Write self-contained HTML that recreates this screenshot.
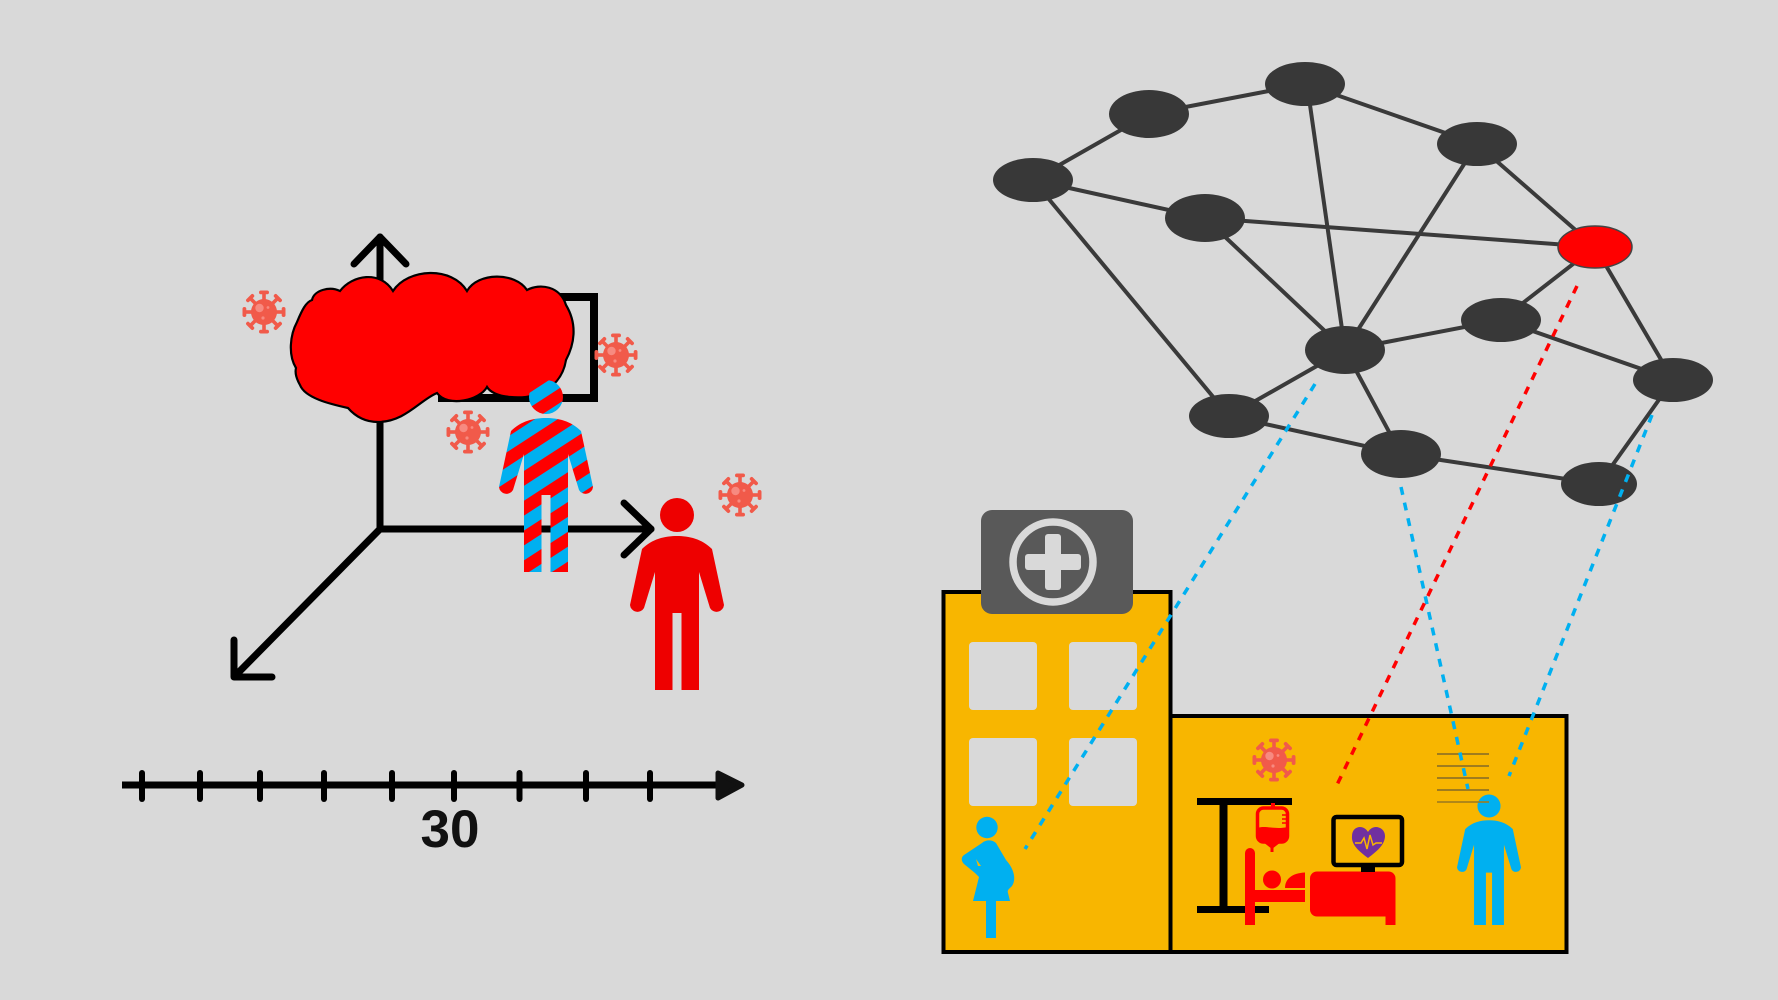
<!DOCTYPE html>
<html>
<head>
<meta charset="utf-8">
<style>
  html,body{margin:0;padding:0;background:#d9d9d9;}
  svg{display:block;}
</style>
</head>
<body>
<svg width="1778" height="1000" viewBox="0 0 1778 1000" xmlns="http://www.w3.org/2000/svg">
  <defs>
    <g id="v">
      <g fill="#f15a4a">
        <circle r="13"/>
        <g><rect x="-1.8" y="-19" width="3.6" height="8"/><rect x="-5" y="-21.5" width="10" height="3.8" rx="1.9"/></g>
        <g transform="rotate(45)"><rect x="-1.8" y="-19" width="3.6" height="8"/><rect x="-5" y="-21.5" width="10" height="3.8" rx="1.9"/></g>
        <g transform="rotate(90)"><rect x="-1.8" y="-19" width="3.6" height="8"/><rect x="-5" y="-21.5" width="10" height="3.8" rx="1.9"/></g>
        <g transform="rotate(135)"><rect x="-1.8" y="-19" width="3.6" height="8"/><rect x="-5" y="-21.5" width="10" height="3.8" rx="1.9"/></g>
        <g transform="rotate(180)"><rect x="-1.8" y="-19" width="3.6" height="8"/><rect x="-5" y="-21.5" width="10" height="3.8" rx="1.9"/></g>
        <g transform="rotate(225)"><rect x="-1.8" y="-19" width="3.6" height="8"/><rect x="-5" y="-21.5" width="10" height="3.8" rx="1.9"/></g>
        <g transform="rotate(270)"><rect x="-1.8" y="-19" width="3.6" height="8"/><rect x="-5" y="-21.5" width="10" height="3.8" rx="1.9"/></g>
        <g transform="rotate(315)"><rect x="-1.8" y="-19" width="3.6" height="8"/><rect x="-5" y="-21.5" width="10" height="3.8" rx="1.9"/></g>
      </g>
      <circle cx="-4.5" cy="-4" r="4.2" fill="#f78a80"/>
      <circle cx="4" cy="-4.5" r="1.4" fill="#f78a80"/>
      <circle cx="-1" cy="6" r="1.6" fill="#f78a80"/>
    </g>
    <g id="man">
      <circle cx="0" cy="0" r="17"/>
      <path d="M -35,34 C -25,24 -12,21 0,21 C 12,21 25,24 35,34 L 47,90 A 7.5 7.5 0 0 1 33,93 L 22,57 L 22,175 L 4.5,175 L 4.5,98 L -4.5,98 L -4.5,175 L -22,175 L -22,57 L -33,93 A 7.5 7.5 0 0 1 -47,90 Z"/>
    </g>
    <pattern id="st" patternUnits="userSpaceOnUse" width="25" height="25" patternTransform="rotate(-33)">
      <rect width="25" height="12.5" fill="#ff0000"/>
      <rect y="12.5" width="25" height="12.5" fill="#00b0f0"/>
    </pattern>
  </defs>

  <rect width="1778" height="1000" fill="#d9d9d9"/>

  <!-- ===== LEFT: axes ===== -->
  <g stroke="#000" stroke-width="7" fill="none" stroke-linecap="round" stroke-linejoin="round">
    <line x1="380" y1="529" x2="380" y2="237"/>
    <polyline points="354,264 380,237 406,264"/>
    <line x1="380" y1="529" x2="651" y2="529"/>
    <polyline points="624,503 651,529 624,555"/>
    <line x1="380" y1="529" x2="236" y2="675"/>
    <polyline points="234,640 234,677 272,677"/>
  </g>
  <rect x="442" y="297" width="152" height="101" fill="none" stroke="#000" stroke-width="8"/>

  <!-- cloud -->
  <path d="M 296,368 C 288,355 290,335 297,322 C 302,310 306,302 312,300 C 314,290 330,286 340,291 C 352,275 380,270 393,291 C 408,268 452,266 467,291 C 478,272 515,272 527,290 C 540,283 560,286 566,305 C 578,325 574,345 566,360 C 562,385 540,400 510,397 C 498,396 490,392 487,387 C 480,400 448,408 437,393 C 420,400 405,422 378,422 C 365,422 355,416 348,408 C 330,404 305,398 300,385 C 296,378 295,372 296,368 Z" fill="#ff0000" stroke="#000" stroke-width="2.2"/>

  <!-- viruses left -->
  <use href="#v" x="264" y="312"/>
  <use href="#v" x="616" y="355"/>
  <use href="#v" x="468" y="432"/>
  <use href="#v" x="740" y="495"/>

  <!-- striped man -->
  <use href="#man" x="546" y="397" fill="url(#st)"/>
  <!-- red man -->
  <use href="#man" x="677" y="515" fill="#ee0000"/>

  <!-- timeline -->
  <line x1="122" y1="785" x2="722" y2="785" stroke="#000" stroke-width="7"/>
  <polygon points="718,773 742,785 718,798" fill="#111" stroke="#111" stroke-width="5" stroke-linejoin="round"/>
  <g stroke="#000" stroke-width="6" stroke-linecap="round">
    <line x1="142" y1="773" x2="142" y2="799"/>
    <line x1="200" y1="773" x2="200" y2="799"/>
    <line x1="260" y1="773" x2="260" y2="799"/>
    <line x1="324" y1="773" x2="324" y2="799"/>
    <line x1="392" y1="773" x2="392" y2="799"/>
    <line x1="454" y1="773" x2="454" y2="799"/>
    <line x1="519.5" y1="773" x2="519.5" y2="799"/>
    <line x1="586" y1="773" x2="586" y2="799"/>
    <line x1="650" y1="773" x2="650" y2="799"/>
  </g>
  <text x="450" y="847" text-anchor="middle" font-family="Liberation Sans, Arial, sans-serif" font-weight="bold" font-size="53" fill="#111">30</text>

  <!-- ===== NETWORK ===== -->
  <g stroke="#3a3a3a" stroke-width="4" stroke-linecap="round">
    <line x1="1033" y1="180" x2="1149" y2="114"/>
    <line x1="1149" y1="114" x2="1305" y2="84"/>
    <line x1="1305" y1="84" x2="1477" y2="144"/>
    <line x1="1033" y1="180" x2="1205" y2="218"/>
    <line x1="1033" y1="180" x2="1229" y2="416"/>
    <line x1="1307" y1="84" x2="1345" y2="350"/>
    <line x1="1477" y1="144" x2="1345" y2="350"/>
    <line x1="1477" y1="144" x2="1595" y2="247"/>
    <line x1="1205" y1="218" x2="1595" y2="247"/>
    <line x1="1205" y1="218" x2="1345" y2="350"/>
    <line x1="1345" y1="350" x2="1501" y2="320"/>
    <line x1="1345" y1="350" x2="1229" y2="416"/>
    <line x1="1345" y1="350" x2="1401" y2="454"/>
    <line x1="1595" y1="247" x2="1501" y2="320"/>
    <line x1="1595" y1="247" x2="1673" y2="380"/>
    <line x1="1501" y1="320" x2="1673" y2="380"/>
    <line x1="1229" y1="416" x2="1401" y2="454"/>
    <line x1="1401" y1="454" x2="1599" y2="484"/>
    <line x1="1599" y1="484" x2="1673" y2="380"/>
  </g>
  <g fill="#383838">
    <ellipse cx="1033" cy="180" rx="40" ry="22"/>
    <ellipse cx="1149" cy="114" rx="40" ry="24"/>
    <ellipse cx="1305" cy="84" rx="40" ry="22"/>
    <ellipse cx="1477" cy="144" rx="40" ry="22"/>
    <ellipse cx="1205" cy="218" rx="40" ry="24"/>
    <ellipse cx="1345" cy="350" rx="40" ry="24"/>
    <ellipse cx="1501" cy="320" rx="40" ry="22"/>
    <ellipse cx="1673" cy="380" rx="40" ry="22"/>
    <ellipse cx="1229" cy="416" rx="40" ry="22"/>
    <ellipse cx="1401" cy="454" rx="40" ry="24"/>
    <ellipse cx="1599" cy="484" rx="38" ry="22"/>
  </g>
  <ellipse cx="1595" cy="247" rx="37" ry="21" fill="#ff0000" stroke="#444" stroke-width="1.5"/>

  <!-- ===== HOSPITAL ===== -->
  <rect x="943.5" y="592" width="227" height="360" fill="#f8b600" stroke="#000" stroke-width="4"/>
  <rect x="1170.5" y="716" width="396" height="236" fill="#f8b600" stroke="#000" stroke-width="4"/>

  <!-- sign -->
  <rect x="981" y="510" width="152" height="104" rx="11" fill="#595959"/>
  <circle cx="1053" cy="562" r="40" fill="none" stroke="#d9d9d9" stroke-width="7.5"/>
  <rect x="1045" y="534" width="16" height="56" rx="3" fill="#d9d9d9"/>
  <rect x="1025" y="554" width="56" height="16" rx="3" fill="#d9d9d9"/>

  <!-- windows -->
  <g fill="#d9d9d9">
    <rect x="969" y="642" width="68" height="68" rx="4"/>
    <rect x="1069" y="642" width="68" height="68" rx="4"/>
    <rect x="969" y="738" width="68" height="68" rx="4"/>
    <rect x="1069" y="738" width="68" height="68" rx="4"/>
  </g>

  <!-- pregnant woman -->
  <g fill="#00b0f0">
    <circle cx="987" cy="827.5" r="10.7"/>
    <path d="M 982,843 C 985,840 992,839 996,843 L 1006,860 C 1015,870 1016,880 1012,886 C 1009,889 1007,890 1008,893 L 1010,901 L 973,901 L 979,877 L 975,873 L 964,864 C 961,861 961,857 964,855 Z"/>
    <rect x="986" y="899" width="10" height="39"/>
  </g>
  <polygon points="976,859 981,866 978,866" fill="#f8b600"/>

  <!-- hospital virus -->
  <use href="#v" x="1274" y="760"/>

  <!-- IV stand -->
  <g fill="#000">
    <rect x="1197" y="798" width="95" height="7"/>
    <rect x="1219.5" y="804" width="8" height="104"/>
    <rect x="1197" y="906" width="72" height="7"/>
  </g>
  <!-- IV bag -->
  <rect x="1271" y="803" width="4" height="5" fill="#f00"/>
  <rect x="1257.5" y="808" width="30" height="34" rx="6" fill="none" stroke="#f00" stroke-width="3.5"/>
  <path d="M 1257.5,828 C 1265,825 1275,830 1287.5,827 L 1287.5,836 C 1287.5,840 1284,843 1281,843 L 1264,843 C 1261,843 1257.5,840 1257.5,836 Z" fill="#f00"/>
  <g stroke="#f00" stroke-width="1.5">
    <line x1="1282" y1="815" x2="1287" y2="815"/>
    <line x1="1282" y1="819" x2="1287" y2="819"/>
    <line x1="1282" y1="823" x2="1287" y2="823"/>
  </g>
  <polygon points="1263,842 1281,842 1272,849" fill="#f00"/>
  <rect x="1270.5" y="847" width="3" height="5" fill="#f00"/>

  <!-- bed -->
  <g fill="#f00">
    <path d="M 1245,925 L 1245,853 A 5 5 0 0 1 1255,853 L 1255,925 Z"/>
    <circle cx="1272" cy="879.5" r="9"/>
    <path d="M 1285,888 C 1285,879 1292,873 1305,872.5 L 1305,888 Z"/>
    <rect x="1255" y="890" width="50" height="12"/>
    <rect x="1310" y="871.5" width="85.5" height="45" rx="7"/>
    <rect x="1385.5" y="905" width="10" height="20"/>
  </g>

  <!-- monitor -->
  <rect x="1333.5" y="817" width="68.5" height="48" rx="3" fill="none" stroke="#000" stroke-width="4.5"/>
  <rect x="1361" y="866" width="14" height="6" fill="#000"/>
  <path d="M 1368,858 C 1360,852 1351,845 1352,836 C 1352,830 1356,827 1360,827 C 1364,827 1367,830 1368,832 C 1369,830 1372,827 1376,827 C 1380,827 1385,830 1385,836 C 1385,845 1376,852 1368,858 Z" fill="#7030a0"/>
  <polyline points="1355,843 1361,843 1364,838 1367,849 1370,835 1373,845 1376,843 1382,843" fill="none" stroke="#f8b600" stroke-width="1.5"/>

  <!-- lines near blue man -->
  <g stroke="#9f7c1e" stroke-width="2">
    <line x1="1437" y1="754" x2="1489" y2="754"/>
    <line x1="1437" y1="766" x2="1489" y2="766"/>
    <line x1="1437" y1="778" x2="1489" y2="778"/>
    <line x1="1437" y1="790" x2="1489" y2="790"/>
  </g>
  <!-- blue man -->
  <use href="#man" transform="translate(1489,806) scale(0.68)" fill="#00b0f0"/>
  <line x1="1437" y1="802" x2="1489" y2="802" stroke="#9f7c1e" stroke-width="2" opacity="0.8"/>

  <!-- ===== dotted connectors ===== -->
  <g fill="none" stroke-width="3.5" stroke-dasharray="8 8">
    <line x1="1315" y1="384" x2="1025" y2="849" stroke="#00b0f0"/>
    <line x1="1401" y1="487" x2="1468" y2="789" stroke="#00b0f0"/>
    <line x1="1577" y1="286" x2="1335" y2="789" stroke="#ff0000"/>
    <line x1="1652" y1="415" x2="1509" y2="776" stroke="#00b0f0"/>
  </g>
</svg>
</body>
</html>
